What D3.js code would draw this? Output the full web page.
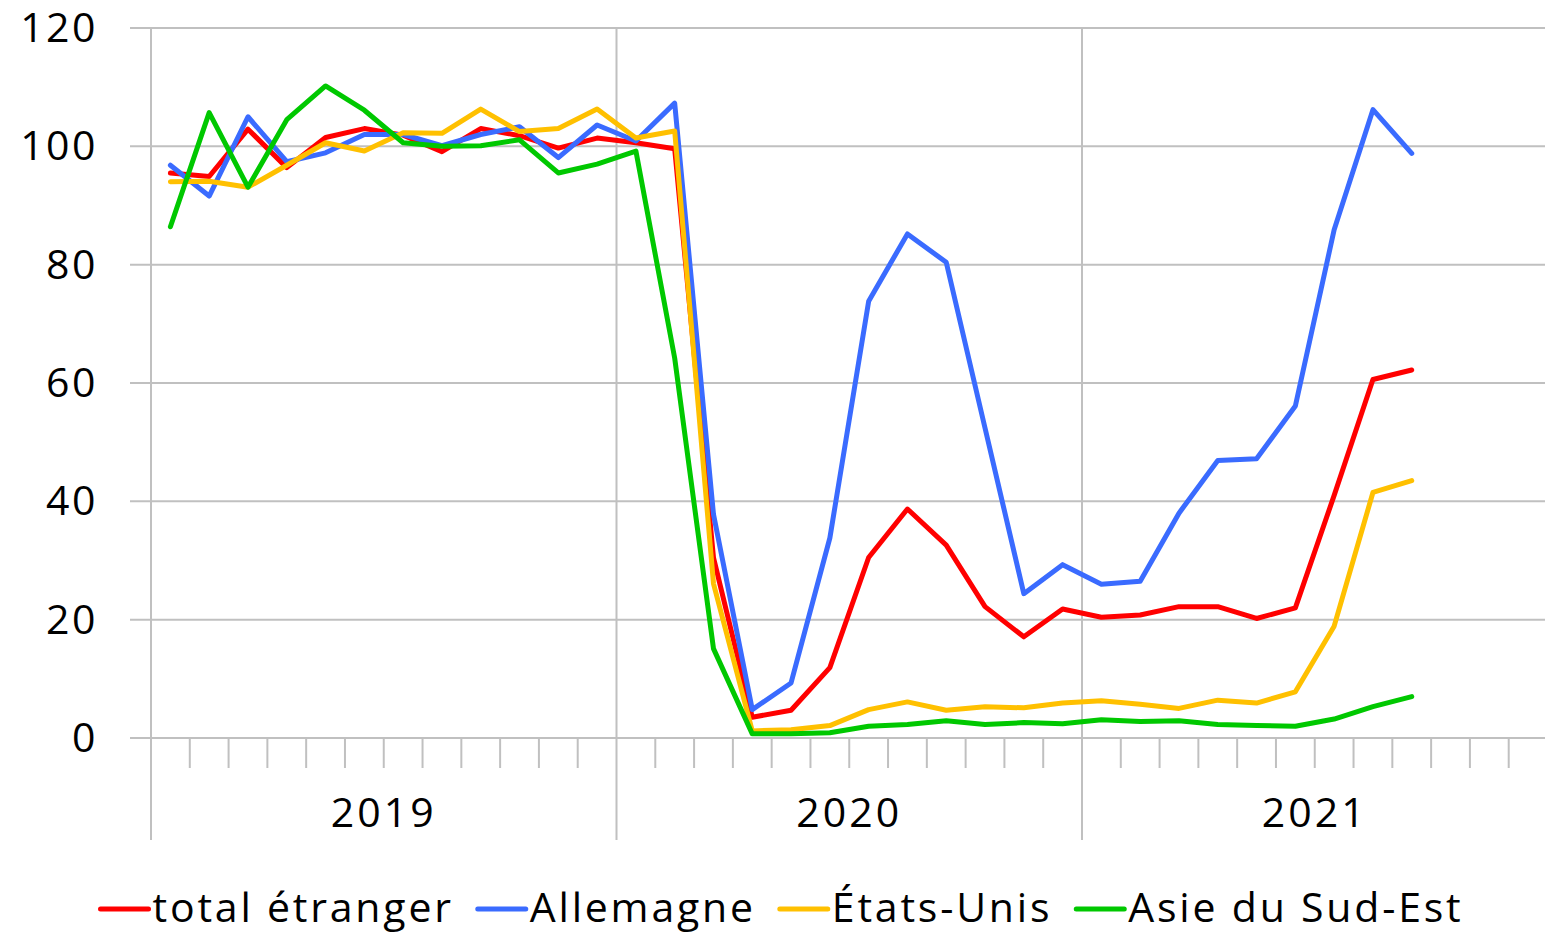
<!DOCTYPE html>
<html lang="fr">
<head>
<meta charset="UTF-8">
<title>Fréquentation étrangère</title>
<script src="https://cdn.jsdelivr.net/npm/d3@7"></script>
<style>
  body { margin: 0; background: #fff; }
  text { font-family: "Open Sans", "Noto Sans", sans-serif; fill: #000; }
</style>
</head>
<body>
<div id="chart"></div>
<script>
// months Jan 2019 .. Dec 2021 (36 slots), data up to Sep 2021
const years = ["2019", "2020", "2021"];
const yTicks = [0, 20, 40, 60, 80, 100, 120];
const seriesNames = ["total étranger", "Allemagne", "États-Unis", "Asie du Sud-Est"];
const seriesColors = ["#ff0000", "#3a6bff", "#ffc000", "#00c800"];

const totalEtranger = [95.5, 94.9, 102.9, 96.4, 101.5, 103.0, 101.9, 99.1, 103.0, 101.8, 99.7, 101.4, 100.6, 99.6,
  30.5, 3.5, 4.7, 11.9, 30.5, 38.7, 32.6, 22.2, 17.1, 21.8, 20.4, 20.8, 22.2, 22.2, 20.2, 22.0, 41.0, 60.6, 62.2];
const allemagne = [96.8, 91.6, 105.0, 97.4, 98.9, 102.0, 102.0, 100.1, 102.0, 103.3, 98.1, 103.6, 100.9, 107.3,
  37.8, 4.8, 9.3, 33.8, 73.8, 85.2, 80.4, 52.4, 24.4, 29.3, 26.0, 26.5, 38.0, 46.9, 47.2, 56.1, 85.9, 106.2, 98.8];
const etatsUnis = [94.0, 94.1, 93.1, 96.8, 100.6, 99.2, 102.3, 102.2, 106.3, 102.5, 103.0, 106.3, 101.4, 102.6,
  26.1, 1.2, 1.4, 2.1, 4.8, 6.1, 4.7, 5.3, 5.1, 5.9, 6.3, 5.7, 5.0, 6.4, 5.9, 7.8, 18.9, 41.5, 43.5];
const asieSudEst = [86.4, 105.7, 93.1, 104.5, 110.2, 106.1, 100.6, 100.0, 100.1, 101.1, 95.5, 97.0, 99.2, 64.2,
  15.1, 0.7, 0.7, 0.9, 2.0, 2.3, 2.9, 2.3, 2.6, 2.4, 3.1, 2.8, 2.9, 2.3, 2.1, 2.0, 3.2, 5.3, 7.0];
const seriesValues = [totalEtranger, allemagne, etatsUnis, asieSudEst];

const W = 1545, H = 934;
const plot = {left: 151, right: 151 + 3 * 465.5, top: 28, bottom: 738};

const svg = d3.select("#chart").append("svg")
  .attr("width", W).attr("height", H);

const months = d3.range(36);
const x = d3.scaleBand().domain(months).range([plot.left, plot.right]);
const xYear = d3.scaleBand().domain(years).range([plot.left, plot.right]);
const y = d3.scaleLinear().domain([0, 120]).range([plot.bottom, plot.top]);

const grid = "#c0c0c0";

// horizontal gridlines
svg.append("g").selectAll("line").data(yTicks).enter().append("line")
  .attr("x1", 130).attr("x2", W)
  .attr("y1", d => y(d)).attr("y2", d => y(d))
  .attr("stroke", grid).attr("stroke-width", 2);

// year separators
svg.append("g").selectAll("line").data(years).enter().append("line")
  .attr("x1", d => xYear(d)).attr("x2", d => xYear(d))
  .attr("y1", y(120)).attr("y2", 840)
  .attr("stroke", grid).attr("stroke-width", 2);

// month ticks
svg.append("g").selectAll("line").data(months.filter(m => m % 12 !== 0)).enter().append("line")
  .attr("x1", d => x(d)).attr("x2", d => x(d))
  .attr("y1", plot.bottom).attr("y2", plot.bottom + 30)
  .attr("stroke", grid).attr("stroke-width", 2);

// y labels
svg.append("g").selectAll("text").data(yTicks).enter().append("text")
  .attr("x", 98).attr("y", d => y(d) + 14)
  .attr("text-anchor", "end")
  .style("font-size", "41px").style("letter-spacing", "2.5px")
  .text(d => d);

// year labels
svg.append("g").selectAll("text").data(years).enter().append("text")
  .attr("x", d => xYear(d) + xYear.bandwidth() / 2).attr("y", 827)
  .attr("text-anchor", "middle")
  .style("font-size", "41px").style("letter-spacing", "3px")
  .text(d => d);

// lines
const line = d3.line()
  .x((d, i) => x(i) + x.bandwidth() / 2)
  .y(d => y(d));

svg.append("g").selectAll("path").data(seriesValues).enter().append("path")
  .attr("d", d => line(d))
  .attr("fill", "none")
  .attr("stroke", (d, i) => seriesColors[i])
  .attr("stroke-width", 5)
  .attr("stroke-linejoin", "round")
  .attr("stroke-linecap", "round");

// legend
const legend = svg.append("g");
let lx = 0;
seriesNames.forEach((name, i) => {
  const g = legend.append("g").attr("transform", "translate(" + lx + ",0)");
  g.append("line").attr("x1", 0).attr("x2", 48).attr("y1", 0).attr("y2", 0)
    .attr("stroke", seriesColors[i]).attr("stroke-width", 5).attr("stroke-linecap", "round");
  const t = g.append("text").attr("x", 52).attr("y", 13)
    .style("font-size", "41px").style("letter-spacing", "2.8px")
    .text(name);
  lx += 52 + t.node().getComputedTextLength() + 24;
});
lx -= 24;
legend.attr("transform", "translate(" + (782 - lx / 2) + ",909)");
</script>
</body>
</html>
